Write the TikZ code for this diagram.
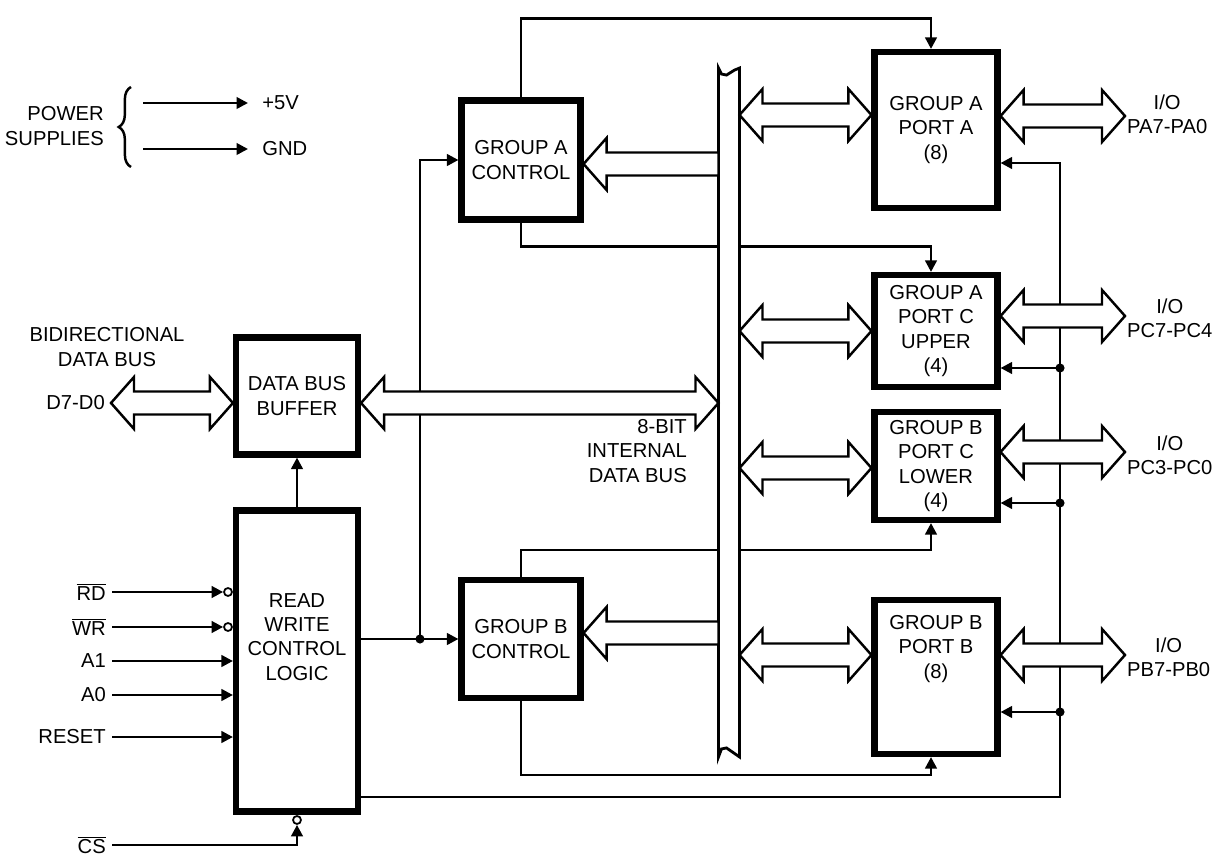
\documentclass[tikz,border=0pt]{standalone}
\usepackage{fontspec}
\setmainfont{Liberation Sans}
\usetikzlibrary{arrows.meta, calc, decorations.pathreplacing}
\tikzstyle{blk} = [rectangle, draw=black, line width=3.5pt, fill=white,
                   align=center, inner sep=0pt, minimum width=2.44cm]
\tikzstyle{sig} = [line width=1.5pt, -{Triangle[length=2.3mm, width=2.3mm]}]
\tikzstyle{wire} = [line width=1.5pt]
\tikzstyle{bubble} = [circle, draw=black, line width=1pt, fill=white,
                      inner sep=0pt, minimum size=1.6mm]
\tikzstyle{iolab} = [align=center, anchor=west, inner xsep=1pt]
\tikzset{
  wide both/.style={draw=black, fill=white, line width=1.4pt, to path={
    let \p1=(\tikztostart), \p2=(\tikztotarget) in
    (\x1,\y1) -- ({\x1+0.46cm},{\y1+0.52cm}) -- ({\x1+0.46cm},{\y1+0.23cm})
    -- ({\x2-0.46cm},{\y1+0.23cm}) -- ({\x2-0.46cm},{\y1+0.52cm}) -- (\x2,\y1)
    -- ({\x2-0.46cm},{\y1-0.52cm}) -- ({\x2-0.46cm},{\y1-0.23cm})
    -- ({\x1+0.46cm},{\y1-0.23cm}) -- ({\x1+0.46cm},{\y1-0.52cm}) -- cycle}},
  wide left/.style={draw=black, fill=white, line width=1.4pt, to path={
    let \p1=(\tikztostart), \p2=(\tikztotarget) in
    (\x1,{\y1+0.23cm}) -- ({\x2+0.46cm},{\y1+0.23cm}) -- ({\x2+0.46cm},{\y1+0.52cm})
    -- (\x2,\y1) -- ({\x2+0.46cm},{\y1-0.52cm}) -- ({\x2+0.46cm},{\y1-0.23cm})
    -- (\x1,{\y1-0.23cm}) -- cycle}}
}
\begin{document}
\begin{tikzpicture}[x=0.02cm, y=-0.02cm, font=\fontsize{11.5}{13.8}\selectfont]
    \useasboundingbox (0,0) rectangle (1227,857);

    % power supplies
    \node[align=right, anchor=east] (psup) at (110,126) {POWER\\SUPPLIES};
    \draw[line width=1.4pt, decorate, decoration={brace, amplitude=7pt}] (131,167) -- (131,87);
    \coordinate (pv) at (143,103);
    \coordinate (pg) at (143,149);
    \node[anchor=west, inner xsep=8pt] (vcc) at (248,103) {+5V};
    \node[anchor=west, inner xsep=8pt] (gnd) at (248,149) {GND};
    \draw[sig] (pv) -- (pv -| vcc.west);
    \draw[sig] (pg) -- (pg -| gnd.west);

    % blocks
    \node[blk, minimum height=2.34cm] (dbb) at (297,396) {DATA BUS\\BUFFER};
    \node[blk, minimum height=6.02cm] (rwcl) at (297,661) {};
    \node[align=center] (rwtxt) at (297,637) {READ\\WRITE\\CONTROL\\LOGIC};
    \node[blk, minimum width=2.38cm, minimum height=2.38cm] (gac) at (521,160) {GROUP A\\CONTROL};
    \node[blk, minimum width=2.38cm, minimum height=2.36cm] (gbc) at (521,639) {GROUP B\\CONTROL};
    \node[blk, minimum width=2.46cm, minimum height=3.12cm] (pa) at (936,130) {GROUP A\\PORT A\\(8)};
    \node[blk, minimum width=2.46cm, minimum height=2.24cm] (pcu) at (936,331) {GROUP A\\PORT C\\UPPER\\(4)};
    \node[blk, minimum width=2.46cm, minimum height=2.16cm] (pcl) at (936,466) {GROUP B\\PORT C\\LOWER\\(4)};
    \node[blk, minimum width=2.46cm, minimum height=3.08cm] (pb) at (936,677) {};
    \node[align=center] (pbtxt) at (936,649) {GROUP B\\PORT B\\(8)};
    \node[minimum width=0.42cm, minimum height=13.78cm, inner sep=0pt, outer sep=0pt] (bus) at (729,412.5) {};

    % labels
    \node[align=center] (bidir) at (107,347) {BIDIRECTIONAL\\DATA BUS};
    \node[anchor=east] (d7) at (111,403) {D7-D0};
    \node[align=right, anchor=east] (ibus) at (693,451) {8-BIT\\INTERNAL\\DATA BUS};
    \node[iolab] (iopa) at (1125,114) {I/O\\PA7-PA0};
    \node[iolab] (iopcu) at (1125,318) {I/O\\PC7-PC4};
    \node[iolab] (iopcl) at (1125,455) {I/O\\PC3-PC0};
    \node[iolab] (iopb) at (1125,657) {I/O\\PB7-PB0};

    % control inputs
    \node[anchor=east] (rd) at (112,592) {$\overline{\hbox{RD}}$};
    \node[anchor=east] (wr) at (112,627) {$\overline{\hbox{WR}}$};
    \node[anchor=east] (a1) at (112,661) {A1};
    \node[anchor=east] (a0) at (112,695) {A0};
    \node[anchor=east] (rst) at (112,737) {RESET};
    \node[anchor=east, inner ysep=1pt] (cs) at (112,845) {$\overline{\hbox{CS}}$};
    \node[bubble] (rdb) at (228,592) {};
    \node[bubble] (wrb) at (228,627) {};
    \node[bubble] (csb) at (297,820) {};
    \draw[sig] (rd.east) -- (rd.east -| rdb.west);
    \draw[sig] (wr.east) -- (wr.east -| wrb.west);
    \draw[sig] (a1.east) -- (a1.east -| rwcl.west);
    \draw[sig] (a0.east) -- (a0.east -| rwcl.west);
    \draw[sig] (rst.east) -- (rst.east -| rwcl.west);
    \draw[sig] (cs.east) -| (csb.south);

    % control lines
    \draw[sig] (rwcl.north) -- (dbb.south);
    \coordinate (jb) at (420,639);
    \draw[wire] (rwcl.east |- jb) -- (jb);
    \draw[sig] (jb) -- (gbc.west |- jb);
    \draw[sig] (jb) |- (gac.west);
    \fill (jb) circle (2.6pt);

    \draw[sig] (gac.north) -- ++(0,-79) -| ($(pa.north)+(-5,0)$);
    \draw[sig] (gac.south) -- ++(0,24) -| ($(pcu.north)+(-5,0)$);
    \draw[sig] (gbc.north) -- ++(0,-27) -| ($(pcl.south)+(-5,0)$);
    \draw[sig] (gbc.south) -- ++(0,74) -| ($(pb.south)+(-5,0)$);

    \coordinate (rc) at (1060,797);
    \draw[sig] (rwcl.east |- rc) -- (rc) |- ($(pa.east)+(0,33)$);
    \foreach \p/\d in {pcu/37, pcl/37, pb/35} {
        \coordinate (d\p) at ($(\p.east -| rc)+(0,\d)$);
        \fill (d\p) circle (2.6pt);
        \draw[sig] (d\p) -- (d\p -| \p.east);
    }

    % internal bus
    \draw[line width=1.6pt, fill=white] (bus.south west) -- (bus.north west) -- ++(3,6) -- ++(5,1)
        -- ++(8,-5) -- (bus.north east) -- (bus.south east) -- ++(-13,-9) -- ++(-5,1) -- cycle;

    % wide arrows
    \draw[wide both] (d7.east) to (dbb.west);
    \draw[wide both] ($(dbb.east)+(0,7)$) to (bus.west);
    \draw[wide left] ($(bus.west |- gac.east)+(0,4)$) to (gac.east);
    \draw[wide left] ($(bus.west |- gbc.east)+(0,-6)$) to (gbc.east);
    \draw[wide both] ($(bus.east |- pa.west)+(0,-15)$) to (pa.west);
    \draw[wide both] (bus.east |- pcu.west) to (pcu.west);
    \draw[wide both] ($(bus.east |- pcl.west)+(0,2)$) to (pcl.west);
    \draw[wide both] ($(bus.east |- pb.west)+(0,-22)$) to (pb.west);
    \draw[wide both] ($(pa.east)+(0,-14)$) to (iopa.west);
    \draw[wide both] ($(pcu.east)+(0,-15)$) to (iopcu.west);
    \draw[wide both] ($(pcl.east)+(0,-14)$) to (iopcl.west);
    \draw[wide both] ($(pb.east)+(0,-22)$) to (iopb.west);
\end{tikzpicture}
\end{document}
